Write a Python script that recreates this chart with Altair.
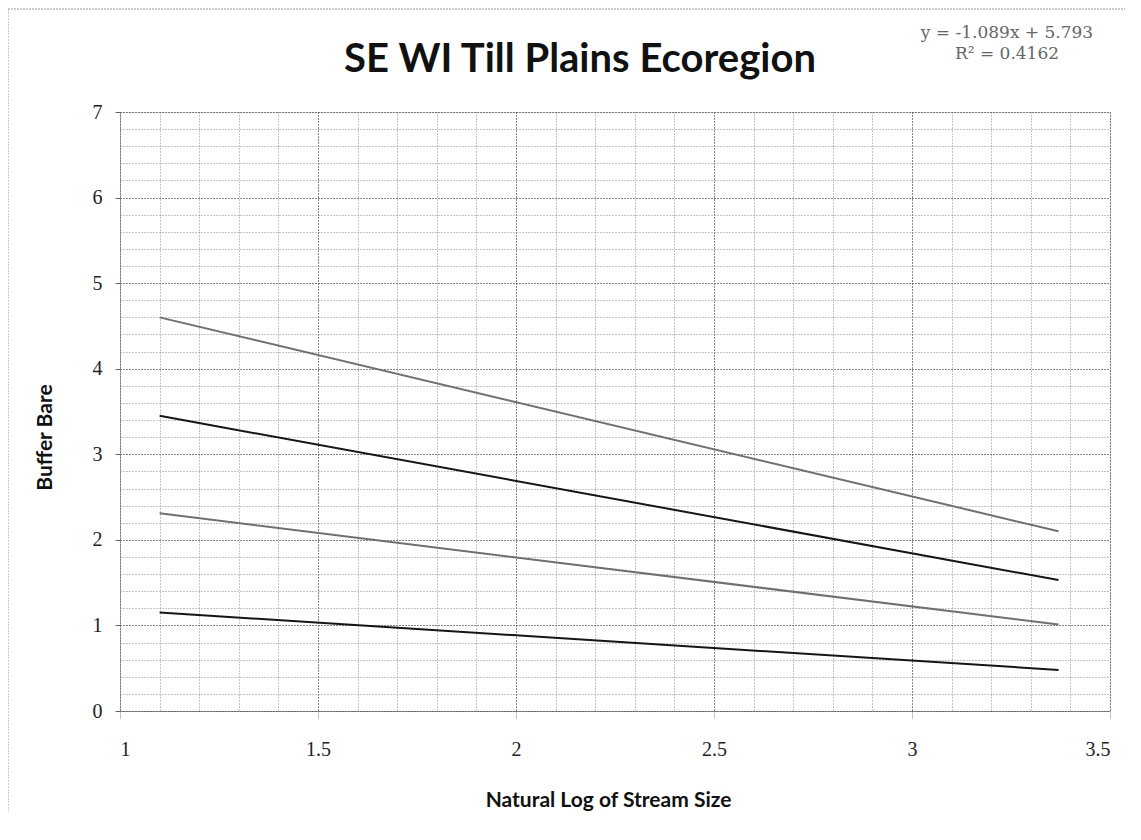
import altair as alt
import pandas as pd

# Data
series_names = ["A", "B", "C", "D"]
x_start = [1.1, 1.1, 1.1, 1.1]
x_end = [3.37, 3.37, 3.37, 3.37]
y_start = [4.60, 3.45, 2.31, 1.15]
y_end = [2.10, 1.53, 1.01, 0.48]
series_colors = ["#707070", "#151515", "#707070", "#151515"]

x_major = [1, 1.5, 2, 2.5, 3, 3.5]
x_minor = [round(1 + 0.1 * i, 1) for i in range(26)]
y_major = [0, 1, 2, 3, 4, 5, 6, 7]
y_minor = [round(0.2 * i, 1) for i in range(36)]

title_text = "SE WI Till Plains Ecoregion"
eq_line1 = "y = -1.089x + 5.793"
eq_line2 = "R\u00b2 = 0.4162"

rows = []
for n, xs_, xe_, ys_, ye_ in zip(series_names, x_start, x_end, y_start, y_end):
    rows.append({"series": n, "x": xs_, "y": ys_})
    rows.append({"series": n, "x": xe_, "y": ye_})
df = pd.DataFrame(rows)

xs = alt.Scale(domain=[1, 3.5], nice=False, zero=False)
ys = alt.Scale(domain=[0, 7], nice=False, zero=False)

grid = alt.Chart(df).mark_line(opacity=0).encode(
    x=alt.X("x:Q", scale=xs, axis=alt.Axis(values=x_minor, grid=True, gridDash=[1, 2],
                                           gridColor="#8a8a8a", gridWidth=1, labels=False,
                                           ticks=False, domain=False, title=None, orient="bottom")),
    y=alt.Y("y:Q", scale=ys, axis=alt.Axis(values=y_minor, grid=True, gridDash=[1, 2],
                                           gridColor="#8a8a8a", gridWidth=1, labels=False,
                                           ticks=False, domain=False, title=None, orient="left")),
    detail="series:N",
)

lines = alt.Chart(df).mark_line(strokeWidth=2).encode(
    x=alt.X("x:Q", scale=xs, axis=alt.Axis(
        values=x_major, grid=True, gridDash=[1, 2], gridColor="#444444",
        ticks=True, tickSize=8, tickColor="#888888", tickDash=[1, 1],
        domain=True, domainColor="#555555", domainDash=[1, 1],
        labelFont="Liberation Serif", labelFontSize=20, labelColor="#222222",
        labelPadding=20, format="~g", orient="bottom",
        title="Natural Log of Stream Size", titleFont="Lato", titleFontSize=21,
        titleFontWeight="bold", titleColor="#111111", titleX=488, titleY=89,
        titleBaseline="middle", titleAnchor="start", titleAlign="center")),
    y=alt.Y("y:Q", scale=ys, axis=alt.Axis(
        values=y_major, grid=True, gridDash=[1, 2], gridColor="#444444",
        ticks=True, tickSize=5, tickColor="#666666",
        domain=True, domainColor="#888888", domainDash=[1, 2],
        labelFont="Liberation Serif", labelFontSize=20, labelColor="#222222",
        labelPadding=13, format="d", orient="left",
        title="Buffer Bare", titleFont="Lato", titleFontSize=21,
        titleFontWeight="bold", titleColor="#111111", titleX=-75, titleY=325,
        titleAngle=-90, titleAlign="center", titleBaseline="middle", titleAnchor="start")),
    color=alt.Color("series:N", scale=alt.Scale(domain=series_names, range=series_colors), legend=None),
)

title_df = pd.DataFrame({"t": [title_text]})
title = alt.Chart(title_df).mark_text(
    font="Lato", fontSize=40, fontWeight="bold", color="#111111",
    align="center", baseline="alphabetic"
).encode(text="t:N", x=alt.value(460), y=alt.value(-40))

eq1 = alt.Chart(pd.DataFrame({"t": [eq_line1]})).mark_text(
    font="DejaVu Serif", fontSize=17, color="#666666", align="center", baseline="middle"
).encode(text="t:N", x=alt.value(887), y=alt.value(-79))
eq2 = alt.Chart(pd.DataFrame({"t": [eq_line2]})).mark_text(
    font="DejaVu Serif", fontSize=17, color="#666666", align="center", baseline="middle"
).encode(text="t:N", x=alt.value(887), y=alt.value(-58))

border_top = alt.Chart(title_df).mark_rule(color="#999999", strokeDash=[2, 1]).encode(
    x=alt.value(-112), x2=alt.value(1010), y=alt.value(-103))
border_left = alt.Chart(title_df).mark_rule(color="#999999", strokeDash=[2, 1]).encode(
    x=alt.value(-112), y=alt.value(-103), y2=alt.value(720))

chart = alt.layer(grid, lines, title, eq1, eq2, border_top, border_left).resolve_axis(
    x="independent", y="independent"
).properties(
    width=990, height=599,
    autosize=alt.AutoSizeParams(type="none"),
    padding={"left": 112, "top": 104, "right": 15, "bottom": 100},
).configure_view(stroke=None).configure(background="white")

chart.save("out.html", embed_options={"renderer": "svg", "actions": False})
